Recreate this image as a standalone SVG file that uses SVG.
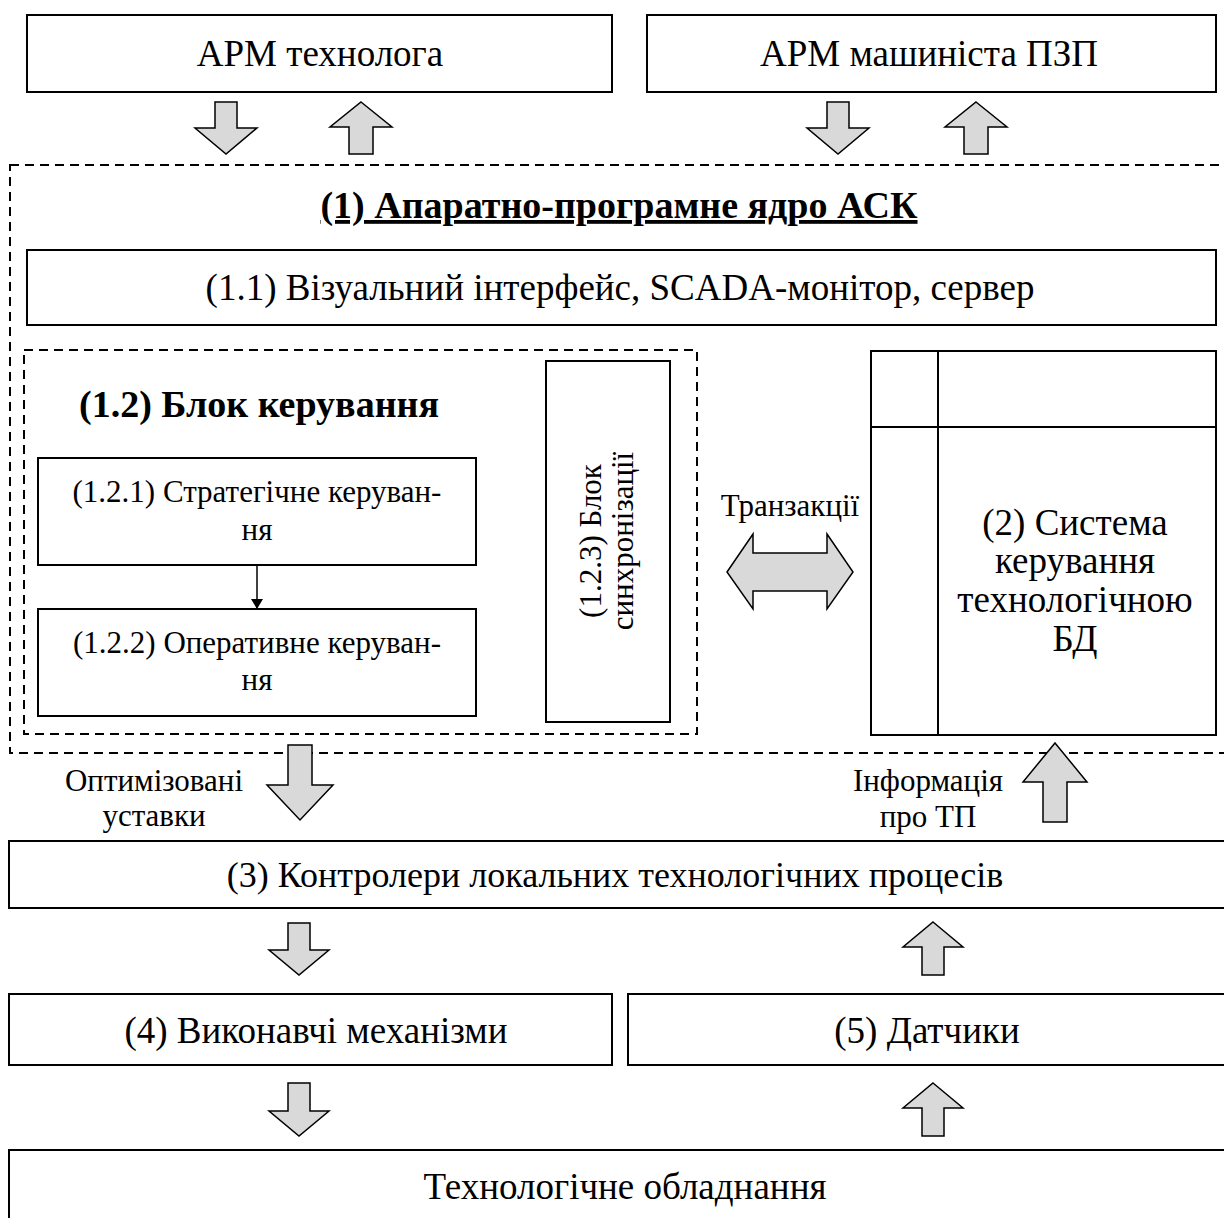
<svg xmlns="http://www.w3.org/2000/svg" width="1224" height="1218" viewBox="0 0 1224 1218">
<style>
.box{fill:#fff;stroke:#000;stroke-width:2}
.dash{fill:none;stroke:#000;stroke-width:2;stroke-dasharray:9 6}
.arr{fill:#d9d9d9;stroke:#000;stroke-width:1.5;stroke-linejoin:miter}
text{font-family:"Liberation Serif","Times New Roman",serif;fill:#000}
.t37{font-size:37px}
.t36{font-size:36px}
.t31{font-size:31px}
.b{font-weight:bold;font-size:38px}
</style>
<defs>
<marker id="ah" markerWidth="10" markerHeight="12" refX="9" refY="6" orient="auto" markerUnits="userSpaceOnUse" viewBox="0 0 10 12">
<path d="M0,0 L10,6 L0,12 Z" fill="#000"/>
</marker>
</defs>
<rect width="1224" height="1218" fill="#fff"/>

<g id="arm-tech"><rect class="box" x="27" y="15" width="585" height="77"/><text class="t37" x="320" y="66" text-anchor="middle">АРМ технолога</text></g>
<g id="arm-mash"><rect class="box" x="647" y="15" width="569" height="77"/><text class="t37" x="929" y="66" text-anchor="middle">АРМ машиніста ПЗП</text></g>

<g id="core">
<rect class="dash" x="10" y="165" width="1230" height="588"/>
<text class="b" x="619" y="218" text-anchor="middle" text-decoration="underline">(1) Апаратно-програмне ядро АСК</text>
</g>
<g id="n11"><rect class="box" x="27" y="250" width="1189" height="75"/><text class="t37" x="620" y="300" text-anchor="middle">(1.1) Візуальний інтерфейс, SCADA-монітор, сервер</text></g>

<g id="n12">
<rect class="dash" x="24" y="350" width="673" height="384"/>
<text class="b" x="259" y="417" text-anchor="middle">(1.2) Блок керування</text>
</g>
<g id="n121"><rect class="box" x="38" y="458" width="438" height="107"/><text class="t31" x="257" y="502" text-anchor="middle">(1.2.1) Стратегічне керуван-</text><text class="t31" x="257" y="540" text-anchor="middle">ня</text></g>
<g id="n122"><rect class="box" x="38" y="609" width="438" height="107"/><text class="t31" x="257" y="653" text-anchor="middle">(1.2.2) Оперативне керуван-</text><text class="t31" x="257" y="690" text-anchor="middle">ня</text></g>
<g id="n123"><rect class="box" x="546" y="361" width="124" height="361"/><text class="t31" transform="translate(608,541) rotate(-90)" text-anchor="middle"><tspan x="0" y="-7">(1.2.3) Блок</tspan><tspan x="0" y="25">синхронізації</tspan></text></g>

<g id="n2">
<rect class="box" x="871" y="351" width="345" height="384"/>
<line x1="938" y1="351" x2="938" y2="735" stroke="#000" stroke-width="2"/>
<line x1="871" y1="427" x2="1216" y2="427" stroke="#000" stroke-width="2"/>
<text class="t37" x="1075" y="535" text-anchor="middle">(2) Система</text>
<text class="t37" x="1075" y="573" text-anchor="middle">керування</text>
<text class="t37" x="1075" y="612" text-anchor="middle">технологічною</text>
<text class="t37" x="1075" y="651" text-anchor="middle">БД</text>
</g>

<g id="n3"><rect class="box" x="9" y="841" width="1230" height="67"/><text class="t36" x="615" y="887" text-anchor="middle">(3) Контролери локальних технологічних процесів</text></g>
<g id="n4"><rect class="box" x="9" y="994" width="603" height="71"/><text class="t37" x="316" y="1043" text-anchor="middle">(4) Виконавчі механізми</text></g>
<g id="n5"><rect class="box" x="628" y="994" width="610" height="71"/><text class="t37" x="927" y="1043" text-anchor="middle">(5) Датчики</text></g>
<g id="n6"><rect class="box" x="9" y="1150" width="1230" height="80"/><text class="t37" x="625" y="1199" text-anchor="middle">Технологічне обладнання</text></g>

<g id="connectors">
<path class="arr" d="M215,102 H237 V128 H257 L226,154 L195,128 H215 Z"/>
<path class="arr" d="M361,102 L392,127 H373 V154 H349 V127 H330 Z"/>
<path class="arr" d="M827,102 H849 V128 H869 L838,154 L807,128 H827 Z"/>
<path class="arr" d="M976,102 L1007,127 H988 V154 H964 V127 H945 Z"/>
<line x1="257" y1="565" x2="257" y2="608" stroke="#000" stroke-width="1.5" marker-end="url(#ah)"/>
<path class="arr" d="M727,572 L753,534 V553 H827 V534 L853,572 L827,609 V591 H753 V609 Z"/>
<text class="t31" x="790" y="516" text-anchor="middle">Транзакції</text>
<path class="arr" d="M288,745 H312 V785 H333 L300,820 L267,785 H288 Z"/>
<text class="t31" x="154" y="791" text-anchor="middle">Оптимізовані</text>
<text class="t31" x="154" y="826" text-anchor="middle">уставки</text>
<path class="arr" d="M1055,743 L1087,782 H1067 V822 H1043 V782 H1023 Z"/>
<text class="t31" x="928" y="791" text-anchor="middle">Інформація</text>
<text class="t31" x="928" y="827" text-anchor="middle">про ТП</text>
<path class="arr" d="M288,923 H310 V950 H329 L299,975 L269,950 H288 Z"/>
<path class="arr" d="M933,922 L963,947 H944 V975 H922 V947 H903 Z"/>
<path class="arr" d="M288,1083 H310 V1111 H329 L299,1136 L269,1111 H288 Z"/>
<path class="arr" d="M933,1083 L963,1108 H944 V1136 H922 V1108 H903 Z"/>
</g>
</svg>
